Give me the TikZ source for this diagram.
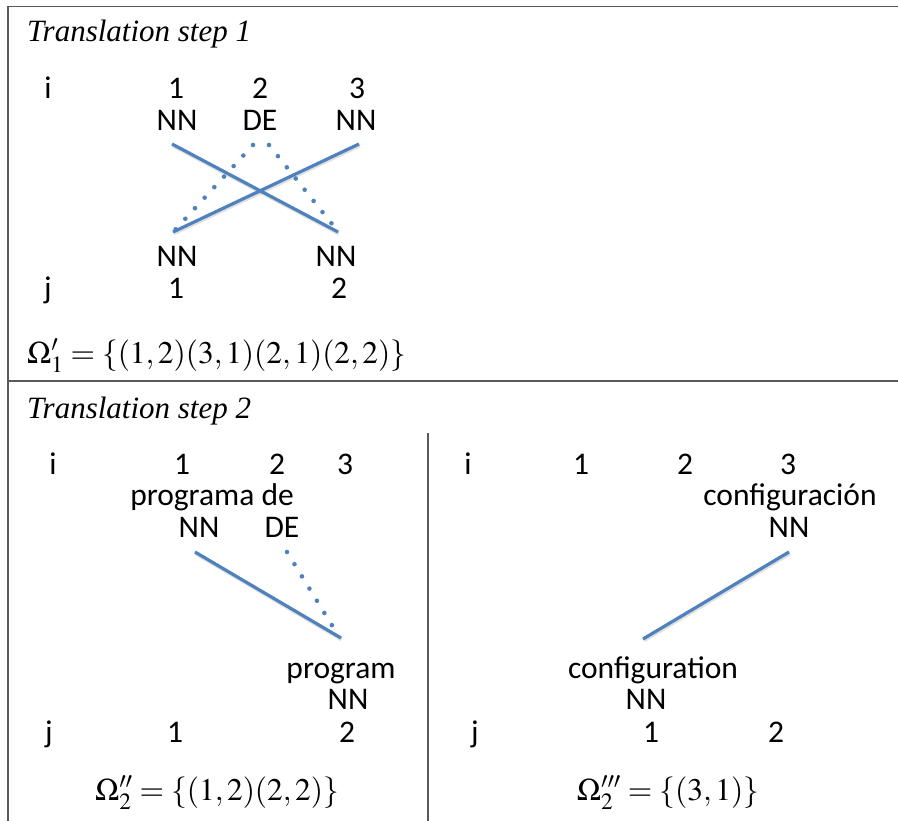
\documentclass[tikz,border=0pt]{standalone}
\usepackage{mathptmx}
\usepackage[no-math]{fontspec}
\setmainfont{Liberation Serif}
\newfontfamily\calib{Carlito}
\definecolor{lineblue}{RGB}{79,129,189}
\begin{document}
\begin{tikzpicture}[x=1pt,y=-1pt,
  lbl/.style={font=\calib\fontsize{31.5}{33}\selectfont, inner sep=0pt, anchor=base},
  ttl/.style={font=\itshape\fontsize{31}{34}\selectfont, inner sep=0pt, anchor=base west},
  eq/.style={font=\fontsize{31.5}{34}\selectfont, inner sep=0pt, anchor=base},
  frm/.style={draw=black!65, line width=1.6pt},
  link/.style={draw=lineblue, line width=3.2pt},
  dotlink/.style={draw=lineblue, line width=4.6pt, line cap=round, dash pattern=on 0pt off 14.3pt},
  shade/.style={draw=black, opacity=0.12, line width=4pt, transform canvas={shift={(0.8pt,-1.4pt)}}}]
\useasboundingbox (0,0) rectangle (898,821);

% table rules
\draw[frm] (898,6.5) -- (8,6.5) -- (8,821);
\draw[frm] (8,381) -- (898,381);
\draw[frm] (428,433) -- (428,821);

% ---------- step 1 ----------
\node[ttl] (t1) at (27,42) {Translation step 1};
\node[lbl] (s1i)  at (48,99)  {i};
\node[lbl] (s1i1) at (176,99) {1};
\node[lbl] (s1i2) at (260,99) {2};
\node[lbl] (s1i3) at (357,99) {3};
\node[lbl] (s1a) at (177,131) {NN};
\node[lbl] (s1b) at (260,131) {DE};
\node[lbl] (s1c) at (356,131) {NN};
\node[lbl] (s1x) at (177,267) {NN};
\node[lbl] (s1y) at (336,267) {NN};
\node[lbl] (s1j)  at (48,299)  {j};
\node[lbl] (s1j1) at (176,299) {1};
\node[lbl] (s1j2) at (339,299) {2};
\node[eq, anchor=base west] (s1eq) at (27,363) {$\Omega'_1=\{(1,2)(3,1)(2,1)(2,2)\}$};

\coordinate (p1a) at (172,144);
\coordinate (p1c) at (359,144);
\coordinate (p1bl) at (253,145);
\coordinate (p1br) at (269,145);
\coordinate (q1x) at (173,232);
\coordinate (q1y) at (338,232);
\coordinate (q1xd) at (175,230);
\coordinate (q1yd) at (332,224);
\draw[shade] (p1a) -- (q1y);
\draw[shade] (p1c) -- (q1x);
\draw[link] (p1a) -- (q1y);
\draw[link] (p1c) -- (q1x);
\draw[dotlink] (p1bl) -- (q1xd);
\draw[dotlink] (p1br) -- (q1yd);

% ---------- step 2 ----------
\node[ttl] (t2) at (27,418) {Translation step 2};

% left alternative
\node[lbl] (s2i)  at (53,474)  {i};
\node[lbl] (s2i1) at (182,474) {1};
\node[lbl] (s2i2) at (277,474) {2};
\node[lbl] (s2i3) at (345,474) {3};
\node[lbl] (s2src) at (212,505) {programa de};
\node[lbl] (s2a) at (199,537) {NN};
\node[lbl] (s2b) at (282,537) {DE};
\node[lbl] (s2tgt) at (341,678) {program};
\node[lbl] (s2y) at (348,709) {NN};
\node[lbl] (s2j)  at (49,742)  {j};
\node[lbl] (s2j1) at (175,742) {1};
\node[lbl] (s2j2) at (347,742) {2};
\node[eq] (s2eq) at (217,800) {$\Omega''_2=\{(1,2)(2,2)\}$};

\coordinate (p2a) at (195,552);
\coordinate (p2b) at (287,552);
\coordinate (q2y) at (341,638);
\coordinate (q2yd) at (333,627);
\draw[shade] (p2a) -- (q2y);
\draw[link] (p2a) -- (q2y);
\draw[dotlink] (p2b) -- (q2yd);

% right alternative
\node[lbl] (s3i)  at (468,474) {i};
\node[lbl] (s3i1) at (581,474) {1};
\node[lbl] (s3i2) at (685,474) {2};
\node[lbl] (s3i3) at (788,474) {3};
\node[lbl] (s3src) at (790,505) {configuración};
\node[lbl] (s3c) at (789,537) {NN};
\node[lbl] (s3tgt) at (653,678) {configuration};
\node[lbl] (s3x) at (646,709) {NN};
\node[lbl] (s3j)  at (475,742) {j};
\node[lbl] (s3j1) at (651,742) {1};
\node[lbl] (s3j2) at (776,742) {2};
\node[eq] (s3eq) at (668,800) {$\Omega'''_2=\{(3,1)\}$};

\coordinate (p3c) at (789,552);
\coordinate (q3x) at (643,639);
\draw[shade] (p3c) -- (q3x);
\draw[link] (p3c) -- (q3x);
\end{tikzpicture}
\end{document}
